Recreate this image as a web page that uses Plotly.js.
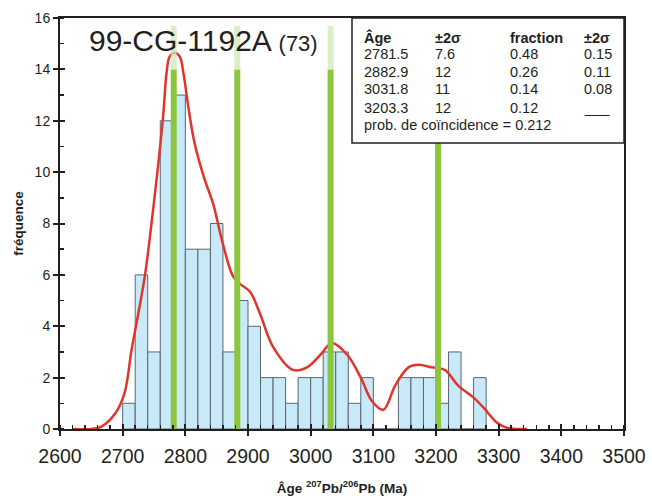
<!DOCTYPE html>
<html><head><meta charset="utf-8">
<script src="https://cdn.plot.ly/plotly-3.0.1.min.js"></script>
<style>body{margin:0;background:#fff;} #chart{width:652px;height:496px;}</style>
</head><body><div id="chart"></div>
<script>
// ---- data ----
const binStarts = [2700,2720,2740,2760,2780,2800,2820,2840,2860,2880,2900,2920,2940,2960,2980,3000,3020,3040,3060,3080,3100,3120,3140,3160,3180,3200,3220,3240,3260];
const counts    = [1,6,3,12,13,7,7,8,3,5,4,2,2,1,2,2,3,3,1,2,0,0,2,2,2,1,3,0,2];
const binWidth = 20;

const kdeAges   = [2620,2650,2666,2688,2703,2714,2725,2736,2746,2757,2765,2770,2775,2783,2791,2797,2805,2815,2831,2844,2860,2876,2887,2903,2919,2940,2972,2994,3016,3034,3058,3080,3098,3116,3135,3156,3172,3193,3214,3235,3261,3277,3298,3314,3330,3345];
const kdeValues = [0,0,0.09,0.6,1.4,3.05,4.5,6.05,8.0,10.35,12.3,13.85,14.5,14.65,14.5,13.85,12.5,11.1,9.7,8.8,7.2,5.95,5.65,5.35,4.5,3.2,2.3,2.4,2.9,3.35,2.9,2.0,1.08,0.75,1.7,2.4,2.5,2.4,2.3,1.7,1.2,0.8,0.23,0.04,0,0];

const peakAges      = [2781.5, 2882.9, 3031.8, 3203.3];
const peakAgeLabels = ['2781.5','2882.9','3031.8','3203.3'];
const peakAgeErr    = ['7.6','12','11','12'];
const peakFractions = ['0.48','0.26','0.14','0.12'];
const peakFracErr   = ['0.15','0.11','0.08','___'];
const coincidenceProb = '0.212';
const sampleName = '99-CG-1192A';
const nAnalyses = 73;
const peakLineTop = 14, peakLineCap = 15.7;

const xTicks = [2600,2700,2800,2900,3000,3100,3200,3300,3400,3500];
const yTicks = [0,2,4,6,8,10,12,14,16];

// ---- geometry helpers (plot area: x 60..624, y 18..429 px) ----
const L = 60, R = 624, T = 18, B = 429;
const px = v => (v - L) / (R - L);
const py = v => (B - v) / (B - T);
const dark = '#231F20';
const FONT = 'Liberation Sans, Arial, sans-serif';

const barX = binStarts.map(s => s + binWidth / 2);
const gx = [], gy = [], lx = [], ly = [];
peakAges.forEach(a => { gx.push(a, a, null); gy.push(0, peakLineTop, null); lx.push(a, a, null); ly.push(peakLineTop, peakLineCap, null); });

const traces = [
  {type:'bar', x: barX, y: counts, width: binWidth,
   marker:{color:'#C8E9F8', line:{color:'#5A6670', width:1}}, hoverinfo:'x+y', showlegend:false},
  {type:'scatter', mode:'lines', x: kdeAges, y: kdeValues,
   line:{color:'#E0352B', width:2.5, shape:'spline', smoothing:1}, showlegend:false},
  {type:'scatter', mode:'lines', x: gx, y: gy, line:{color:'#8CC63F', width:6}, showlegend:false, hoverinfo:'skip'},
  {type:'scatter', mode:'lines', x: lx, y: ly, line:{color:'rgba(205,232,180,0.75)', width:6}, showlegend:false, hoverinfo:'skip'},
  {type:'scatter', mode:'markers', x:[2600], y:[0], xaxis:'x2', yaxis:'y2', marker:{opacity:0}, showlegend:false, hoverinfo:'skip'}
];

const ann = [];
function cell(text, x, y, size, bold) {
  ann.push({xref:'paper', yref:'paper', x: px(x), y: py(y), xanchor:'left', yanchor:'middle',
    text: bold ? '<b>' + text + '</b>' : text, showarrow:false, borderpad:0,
    font:{family:FONT, size:size, color:dark}});
}
const colX = [363, 434, 509, 583];
const rowY = [37.5, 54.5, 72, 89.5, 107.5];
['Âge','±2σ','fraction','±2σ'].forEach((t,i) => cell(t, colX[i], rowY[0], 14.5, true));
peakAges.forEach((a, r) => {
  cell(peakAgeLabels[r], colX[0], rowY[r+1], 14.5);
  cell(peakAgeErr[r], colX[1], rowY[r+1], 14.5);
  cell(peakFractions[r], colX[2], rowY[r+1], 14.5);
  cell(peakFracErr[r], colX[3], rowY[r+1], 14.5);
});
cell('prob. de coïncidence = ' + coincidenceProb, colX[0], 125.5, 14.5);

ann.push({xref:'paper', yref:'paper', x: px(87), y: py(40), xanchor:'left', yanchor:'middle', showarrow:false,
  text: sampleName + ' <span style="font-size:22px">(' + nAnalyses + ')</span>',
  font:{family:FONT, size:30, color:dark}});

const layout = {
  width:652, height:496,
  margin:{l:L, r:652-R, t:T, b:496-B},
  paper_bgcolor:'#fff', plot_bgcolor:'#fff',
  bargap:0, showlegend:false,
  font:{family:FONT, color:dark},
  xaxis:{range:[2600,3500], tickvals:xTicks, ticktext:xTicks.map(String),
    ticks:'outside', ticklen:5, tickwidth:2, tickcolor:dark, ticklabelstandoff:4,
    showline:true, linewidth:2, linecolor:dark, mirror:true, showgrid:false, zeroline:false,
    tickfont:{family:FONT, size:19.5, color:dark},
    minor:{dtick:20, tick0:2600, ticks:'inside', ticklen:4, tickwidth:1.5, tickcolor:dark, showgrid:false},
    title:{text:'<b>Âge <sup>207</sup>Pb/<sup>206</sup>Pb (Ma)</b>', font:{family:FONT, size:13.5, color:dark}, standoff:17}},
  yaxis:{range:[0,16], tickvals:yTicks, ticktext:yTicks.map(String),
    ticks:'outside', ticklen:5, tickwidth:2, tickcolor:dark,
    showline:true, linewidth:2, linecolor:dark, mirror:true, showgrid:false, zeroline:false,
    tickfont:{family:FONT, size:14, color:dark},
    minor:{dtick:1, tick0:0, ticks:'inside', ticklen:4, tickwidth:1.5, tickcolor:dark, showgrid:false},
    title:{text:'<b>fréquence</b>', font:{family:FONT, size:13.5, color:dark}, standoff:8}},
  xaxis2:{overlaying:'x', matches:'x', range:[2600,3500], tickvals:xTicks, ticks:'inside', ticklen:5, tickwidth:2, tickcolor:dark,
    showticklabels:false, showline:false, showgrid:false, zeroline:false, anchor:'y2'},
  yaxis2:{overlaying:'y', matches:'y', range:[0,16], tickvals:yTicks, ticks:'inside', ticklen:5, tickwidth:2, tickcolor:dark,
    showticklabels:false, showline:false, showgrid:false, zeroline:false, anchor:'x2'},
  shapes:[{type:'rect', xref:'paper', yref:'paper', x0:px(352), x1:px(624), y0:py(143), y1:py(18),
    line:{color:dark, width:1.5}, fillcolor:'#fff', layer:'above'}],
  annotations: ann
};
Plotly.newPlot('chart', traces, layout, {displayModeBar:false, staticPlot:true});
</script></body></html>
